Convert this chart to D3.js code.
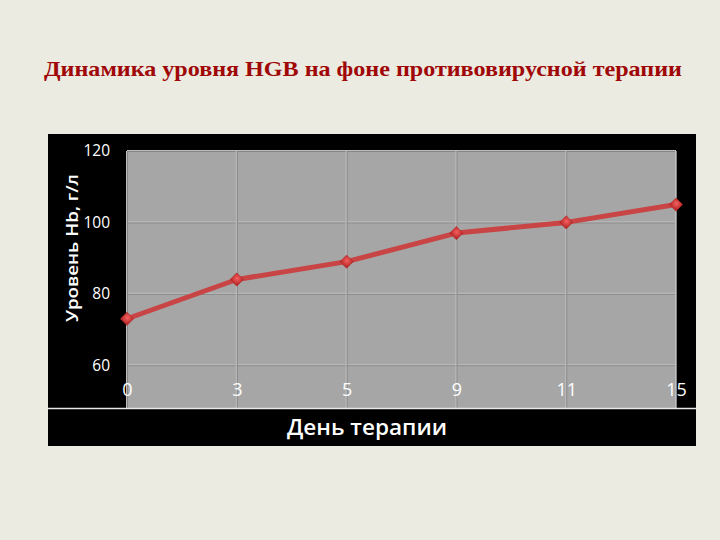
<!DOCTYPE html>
<html><head><meta charset="utf-8">
<script src="https://cdn.jsdelivr.net/npm/d3@7"></script>
<style>html,body{margin:0;padding:0;background:#ebebe1;}svg{display:block;}</style>
</head><body>
<svg id="c" width="720" height="540"></svg>
<script>
const title = "Динамика уровня HGB на фоне противовирусной терапии";
const days = ["0", "3", "5", "9", "11", "15"];
const hgb = [73, 84, 89, 97, 100, 105];
const yTicks = [60, 80, 100, 120];
const yTitle = "Уровень Hb, г/л";
const xTitle = "День терапии";

(function(){
const svg = d3.select("#c");
svg.append("rect").attr("width",720).attr("height",540).attr("fill","#ebebe1");

svg.append("text").attr("x",363).attr("y",76).attr("text-anchor","middle")
  .attr("font-family","'Liberation Serif','Times New Roman',serif").attr("font-weight","bold")
  .attr("font-size",21).attr("fill","#a00808")
  .attr("textLength",638).attr("lengthAdjust","spacingAndGlyphs").text(title);

svg.append("rect").attr("x",48).attr("y",134).attr("width",648).attr("height",312).attr("fill","#000");

const pL=127, pR=676, pT=151, pB=408;
const x = d3.scalePoint().domain(days).range([pL,pR]).padding(0);
const y = d3.scaleLinear().domain([48,120]).range([pB,pT]);

svg.append("rect").attr("x",pL).attr("y",pT).attr("width",pR-pL).attr("height",pB-pT).attr("fill","#a6a6a6");

const g = svg.append("g");
yTicks.forEach(t=>{
  g.append("line").attr("x1",pL).attr("x2",pR).attr("y1",y(t)+0.5).attr("y2",y(t)+0.5).attr("stroke","#858585");
  g.append("line").attr("x1",pL).attr("x2",pR).attr("y1",y(t)-0.5).attr("y2",y(t)-0.5).attr("stroke","#bdbdbd");
});
days.forEach(d=>{
  g.append("line").attr("x1",x(d)+0.5).attr("x2",x(d)+0.5).attr("y1",pT).attr("y2",pB).attr("stroke","#858585");
  g.append("line").attr("x1",x(d)-0.5).attr("x2",x(d)-0.5).attr("y1",pT).attr("y2",pB).attr("stroke","#bdbdbd");
});

svg.append("line").attr("x1",48).attr("x2",696).attr("y1",408.5).attr("y2",408.5).attr("stroke","#e8e8e8").attr("stroke-width",1.5);

const yAxis = d3.axisLeft(y).tickValues(yTicks).tickSize(0).tickPadding(0);
const ya = svg.append("g").attr("transform","translate(110,0)").call(yAxis);
ya.select(".domain").remove();
ya.selectAll("text").attr("fill","#fff").attr("font-family","'Open Sans','DejaVu Sans',sans-serif").attr("font-size",15.5);

const xAxis = d3.axisBottom(x).tickSize(0).tickPadding(0);
const xa = svg.append("g").attr("transform","translate(0,383)").call(xAxis);
xa.select(".domain").remove();
xa.selectAll("text").attr("fill","#fff").attr("font-family","'Open Sans','DejaVu Sans',sans-serif").attr("font-size",18);

const line = d3.line().x((d,i)=>x(days[i])).y(d=>y(d));
svg.append("path").datum(hgb).attr("d",line).attr("fill","none").attr("stroke","#c94444").attr("stroke-width",5).attr("stroke-linejoin","round");

const defs = svg.append("defs");
const rg = defs.append("radialGradient").attr("id","mk").attr("cx","45%").attr("cy","40%").attr("r","65%");
rg.append("stop").attr("offset","0%").attr("stop-color","#f46060");
rg.append("stop").attr("offset","100%").attr("stop-color","#b82828");
svg.selectAll(".mk").data(hgb).enter().append("path")
  .attr("d",d3.symbol(d3.symbolSquare, 88))
  .attr("transform",(d,i)=>`translate(${x(days[i])},${y(d)}) rotate(45)`)
  .attr("fill","url(#mk)").attr("stroke","#b02424").attr("stroke-width",0.5);

svg.append("text").attr("transform","translate(78,248) rotate(-90)").attr("text-anchor","middle")
  .attr("font-family","'Open Sans','DejaVu Sans',sans-serif").attr("font-weight","600").attr("font-size",17)
  .attr("textLength",148).attr("lengthAdjust","spacingAndGlyphs")
  .attr("fill","#fff").text(yTitle);
svg.append("text").attr("x",367).attr("y",435).attr("text-anchor","middle")
  .attr("font-family","'Open Sans','DejaVu Sans',sans-serif").attr("font-weight","600").attr("font-size",22)
  .attr("textLength",160).attr("lengthAdjust","spacingAndGlyphs")
  .attr("fill","#fff").text(xTitle);
})();
</script>
</body></html>
